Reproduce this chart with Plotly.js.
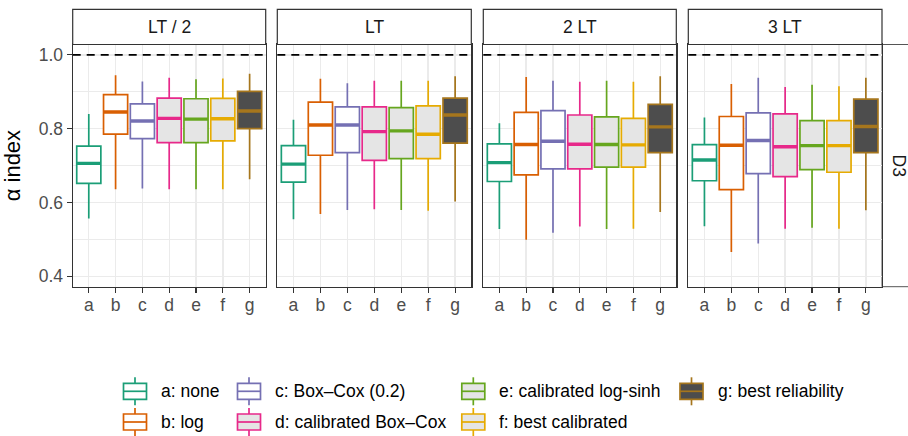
<!DOCTYPE html>
<html>
<head>
<meta charset="utf-8">
<script src="https://cdn.plot.ly/plotly-3.0.1.min.js"></script>
<style>
  html, body { margin: 0; padding: 0; background: #fff; }
  #chart { width: 908px; height: 436px; }
</style>
</head>
<body>
<div id="chart"></div>
<script>
// ---- data -------------------------------------------------------------
const categories = ['a', 'b', 'c', 'd', 'e', 'f', 'g'];
const methodLabels = [
  'a: none',
  'b: log',
  'c: Box\u2013Cox (0.2)',
  'd: calibrated Box\u2013Cox',
  'e: calibrated log-sinh',
  'f: best calibrated',
  'g: best reliability'
];
const leadTimes = ['LT / 2', 'LT', '2 LT', '3 LT'];
const rowLabel = 'D3';
const referenceLevel = 1.0;

// one row per lead time, one column per method (a..g)
const whiskerHigh = [
  [0.840, 0.945, 0.928, 0.938, 0.934, 0.936, 0.949],
  [0.824, 0.935, 0.923, 0.930, 0.930, 0.930, 0.942],
  [0.815, 0.940, 0.930, 0.927, 0.930, 0.927, 0.942],
  [0.830, 0.921, 0.938, 0.913, 0.919, 0.915, 0.938]
];
const upperQuartile = [
  [0.753, 0.892, 0.867, 0.883, 0.881, 0.882, 0.901],
  [0.754, 0.872, 0.859, 0.859, 0.857, 0.862, 0.883],
  [0.759, 0.844, 0.849, 0.837, 0.832, 0.828, 0.866],
  [0.757, 0.833, 0.843, 0.840, 0.822, 0.822, 0.880]
];
const medianValue = [
  [0.706, 0.845, 0.821, 0.828, 0.826, 0.827, 0.848],
  [0.704, 0.810, 0.810, 0.792, 0.794, 0.785, 0.837],
  [0.708, 0.757, 0.766, 0.758, 0.757, 0.756, 0.805],
  [0.715, 0.755, 0.768, 0.751, 0.754, 0.754, 0.806]
];
const lowerQuartile = [
  [0.652, 0.785, 0.773, 0.762, 0.762, 0.767, 0.800],
  [0.655, 0.728, 0.735, 0.714, 0.719, 0.719, 0.761],
  [0.657, 0.675, 0.691, 0.691, 0.696, 0.696, 0.735],
  [0.659, 0.635, 0.678, 0.670, 0.689, 0.682, 0.735]
];
const whiskerLow = [
  [0.557, 0.636, 0.638, 0.636, 0.636, 0.636, 0.663],
  [0.555, 0.569, 0.580, 0.582, 0.580, 0.578, 0.603],
  [0.528, 0.499, 0.518, 0.535, 0.528, 0.529, 0.574],
  [0.536, 0.466, 0.489, 0.529, 0.532, 0.529, 0.579]
];

// ---- styling ----------------------------------------------------------
const lineColors = ['#1b9e77', '#d95f02', '#7570b3', '#e7298a', '#66a61e', '#e6ab02', '#a6761d'];
const fillColors = ['#ffffff', '#ffffff', '#ffffff', '#e5e5e5', '#e5e5e5', '#e5e5e5', '#4d4d4d'];
const FONT = '"Liberation Sans", Arial, "DejaVu Sans", sans-serif';
const TEXT_SIZE = 17.5;
const W = 908, H = 436;
const px = v => v / W;          // horizontal pixel -> paper
const py = v => 1 - v / H;      // vertical pixel -> paper

const panelX = [[72.7, 265.7], [277.3, 471.3], [483.3, 676.3], [688.3, 882]];
const panelTop = 44.5, panelBottom = 286.7, stripTop = 9.3;
const boxWidth = 0.9;
const gridColor = '#ebebeb';
const frameColor = '#333333';

const traces = [];
const layout = {
  width: W, height: H,
  margin: { l: 0, r: 0, t: 0, b: 0 },
  paper_bgcolor: '#ffffff', plot_bgcolor: '#ffffff',
  font: { family: FONT, size: TEXT_SIZE, color: '#4d4d4d' },
  showlegend: false,
  boxmode: 'overlay',
  shapes: [], annotations: []
};

leadTimes.forEach((lt, p) => {
  const s = p === 0 ? '' : String(p + 1);
  const xName = 'x' + s, yName = 'y' + s;

  categories.forEach((cat, m) => {
    traces.push({
      type: 'box',
      x: [m],
      q1: [lowerQuartile[p][m]],
      median: [medianValue[p][m]],
      q3: [upperQuartile[p][m]],
      lowerfence: [whiskerLow[p][m]],
      upperfence: [whiskerHigh[p][m]],
      width: boxWidth,
      whiskerwidth: 0,
      boxpoints: false,
      fillcolor: fillColors[m],
      line: { color: lineColors[m], width: 1.7 },
      xaxis: xName, yaxis: yName,
      hoverinfo: 'skip', showlegend: false
    });
    // heavier median bar on top of the box
    traces.push({
      type: 'scatter', mode: 'lines',
      x: [m - boxWidth / 2, m + boxWidth / 2],
      y: [medianValue[p][m], medianValue[p][m]],
      line: { color: lineColors[m], width: 3.4 },
      xaxis: xName, yaxis: yName,
      hoverinfo: 'skip', showlegend: false
    });
  });

  layout['xaxis' + s] = {
    domain: [px(panelX[p][0]), px(panelX[p][1])],
    anchor: yName,
    range: [-0.6, categories.length - 0.4],
    tickvals: categories.map((c, i) => i),
    ticktext: categories,
    showgrid: true, gridcolor: gridColor, gridwidth: 1.4,
    zeroline: false,
    showline: true, mirror: true, linecolor: frameColor, linewidth: 1.2,
    ticks: 'outside', ticklen: 5, tickwidth: 1.2, tickcolor: frameColor,
    ticklabelstandoff: -3,
    tickfont: { family: FONT, size: TEXT_SIZE, color: '#4d4d4d' },
    fixedrange: true
  };
  layout['yaxis' + s] = {
    domain: [py(panelBottom), py(panelTop)],
    anchor: xName,
    range: [0.372, 1.028],
    tickvals: [0.4, 0.6, 0.8, 1.0],
    ticktext: ['0.4', '0.6', '0.8', '1.0'],
    showgrid: true, gridcolor: gridColor, gridwidth: 1.4,
    minor: { tickvals: [0.5, 0.7, 0.9], showgrid: true, gridcolor: gridColor, gridwidth: 1, ticks: '' },
    zeroline: false,
    showline: true, mirror: true, linecolor: frameColor, linewidth: 1.2,
    ticks: p === 0 ? 'outside' : '', ticklen: 5, tickwidth: 1.2, tickcolor: frameColor,
    showticklabels: p === 0,
    tickfont: { family: FONT, size: TEXT_SIZE, color: '#4d4d4d' },
    fixedrange: true
  };
  if (p === 0) {
    layout['yaxis' + s].title = { text: '\u03b1 index', font: { family: FONT, size: 22, color: '#000000' } };
  }

  // dashed reference line at alpha = 1
  layout.shapes.push({
    type: 'line', xref: xName + ' domain', x0: 0, x1: 1,
    yref: yName, y0: referenceLevel, y1: referenceLevel,
    line: { color: '#000000', width: 1.6, dash: '8px,6px' }
  });

  // facet strip
  layout.shapes.push({
    type: 'rect', xref: xName + ' domain', x0: 0, x1: 1,
    yref: 'paper', y0: py(panelTop), y1: py(stripTop),
    fillcolor: '#ffffff', line: { color: frameColor, width: 1.2 }
  });
  layout.annotations.push({
    xref: xName + ' domain', x: 0.5, yref: 'paper', y: py((panelTop + stripTop) / 2),
    text: lt, showarrow: false, xanchor: 'center', yanchor: 'middle',
    font: { family: FONT, size: TEXT_SIZE, color: '#1a1a1a' }
  });
});

// row strip on the right
layout.shapes.push({
  type: 'rect', xref: 'paper', x0: px(882), x1: px(918),
  yref: 'paper', y0: py(panelBottom), y1: py(panelTop),
  fillcolor: '#ffffff', line: { color: '#555555', width: 1 }, layer: 'below'
});
layout.annotations.push({
  xref: 'paper', x: px(899), yref: 'paper', y: py((panelTop + panelBottom) / 2),
  text: rowLabel, textangle: 90, showarrow: false, xanchor: 'center', yanchor: 'middle',
  font: { family: FONT, size: TEXT_SIZE, color: '#1a1a1a' }
});

// ---- legend: box glyphs, laid out column by column ---------------------
const legendColumnX = [135, 249, 473.3, 691.5];
const legendRowY = [391.3, 422];
const keyHalfW = 11.5, keyHalfH = 8, whiskerStub = 6;
methodLabels.forEach((label, m) => {
  const cx = legendColumnX[Math.floor(m / 2)];
  const cy = legendRowY[m % 2];
  const stroke = { color: lineColors[m], width: 1.7 };
  layout.shapes.push(
    { type: 'line', xref: 'paper', yref: 'paper', x0: px(cx), x1: px(cx), y0: py(cy - keyHalfH - whiskerStub), y1: py(cy - keyHalfH), line: stroke },
    { type: 'line', xref: 'paper', yref: 'paper', x0: px(cx), x1: px(cx), y0: py(cy + keyHalfH), y1: py(cy + keyHalfH + whiskerStub), line: stroke },
    { type: 'rect', xref: 'paper', yref: 'paper', x0: px(cx - keyHalfW), x1: px(cx + keyHalfW), y0: py(cy + keyHalfH), y1: py(cy - keyHalfH), fillcolor: fillColors[m], line: stroke },
    { type: 'line', xref: 'paper', yref: 'paper', x0: px(cx - keyHalfW), x1: px(cx + keyHalfW), y0: py(cy), y1: py(cy), line: stroke }
  );
  layout.annotations.push({
    xref: 'paper', x: px(cx + 24), yref: 'paper', y: py(cy),
    text: label, showarrow: false, xanchor: 'left', yanchor: 'middle',
    font: { family: FONT, size: TEXT_SIZE, color: '#000000' }
  });
});

Plotly.newPlot('chart', traces, layout, { displayModeBar: false, staticPlot: true });
</script>
</body>
</html>
